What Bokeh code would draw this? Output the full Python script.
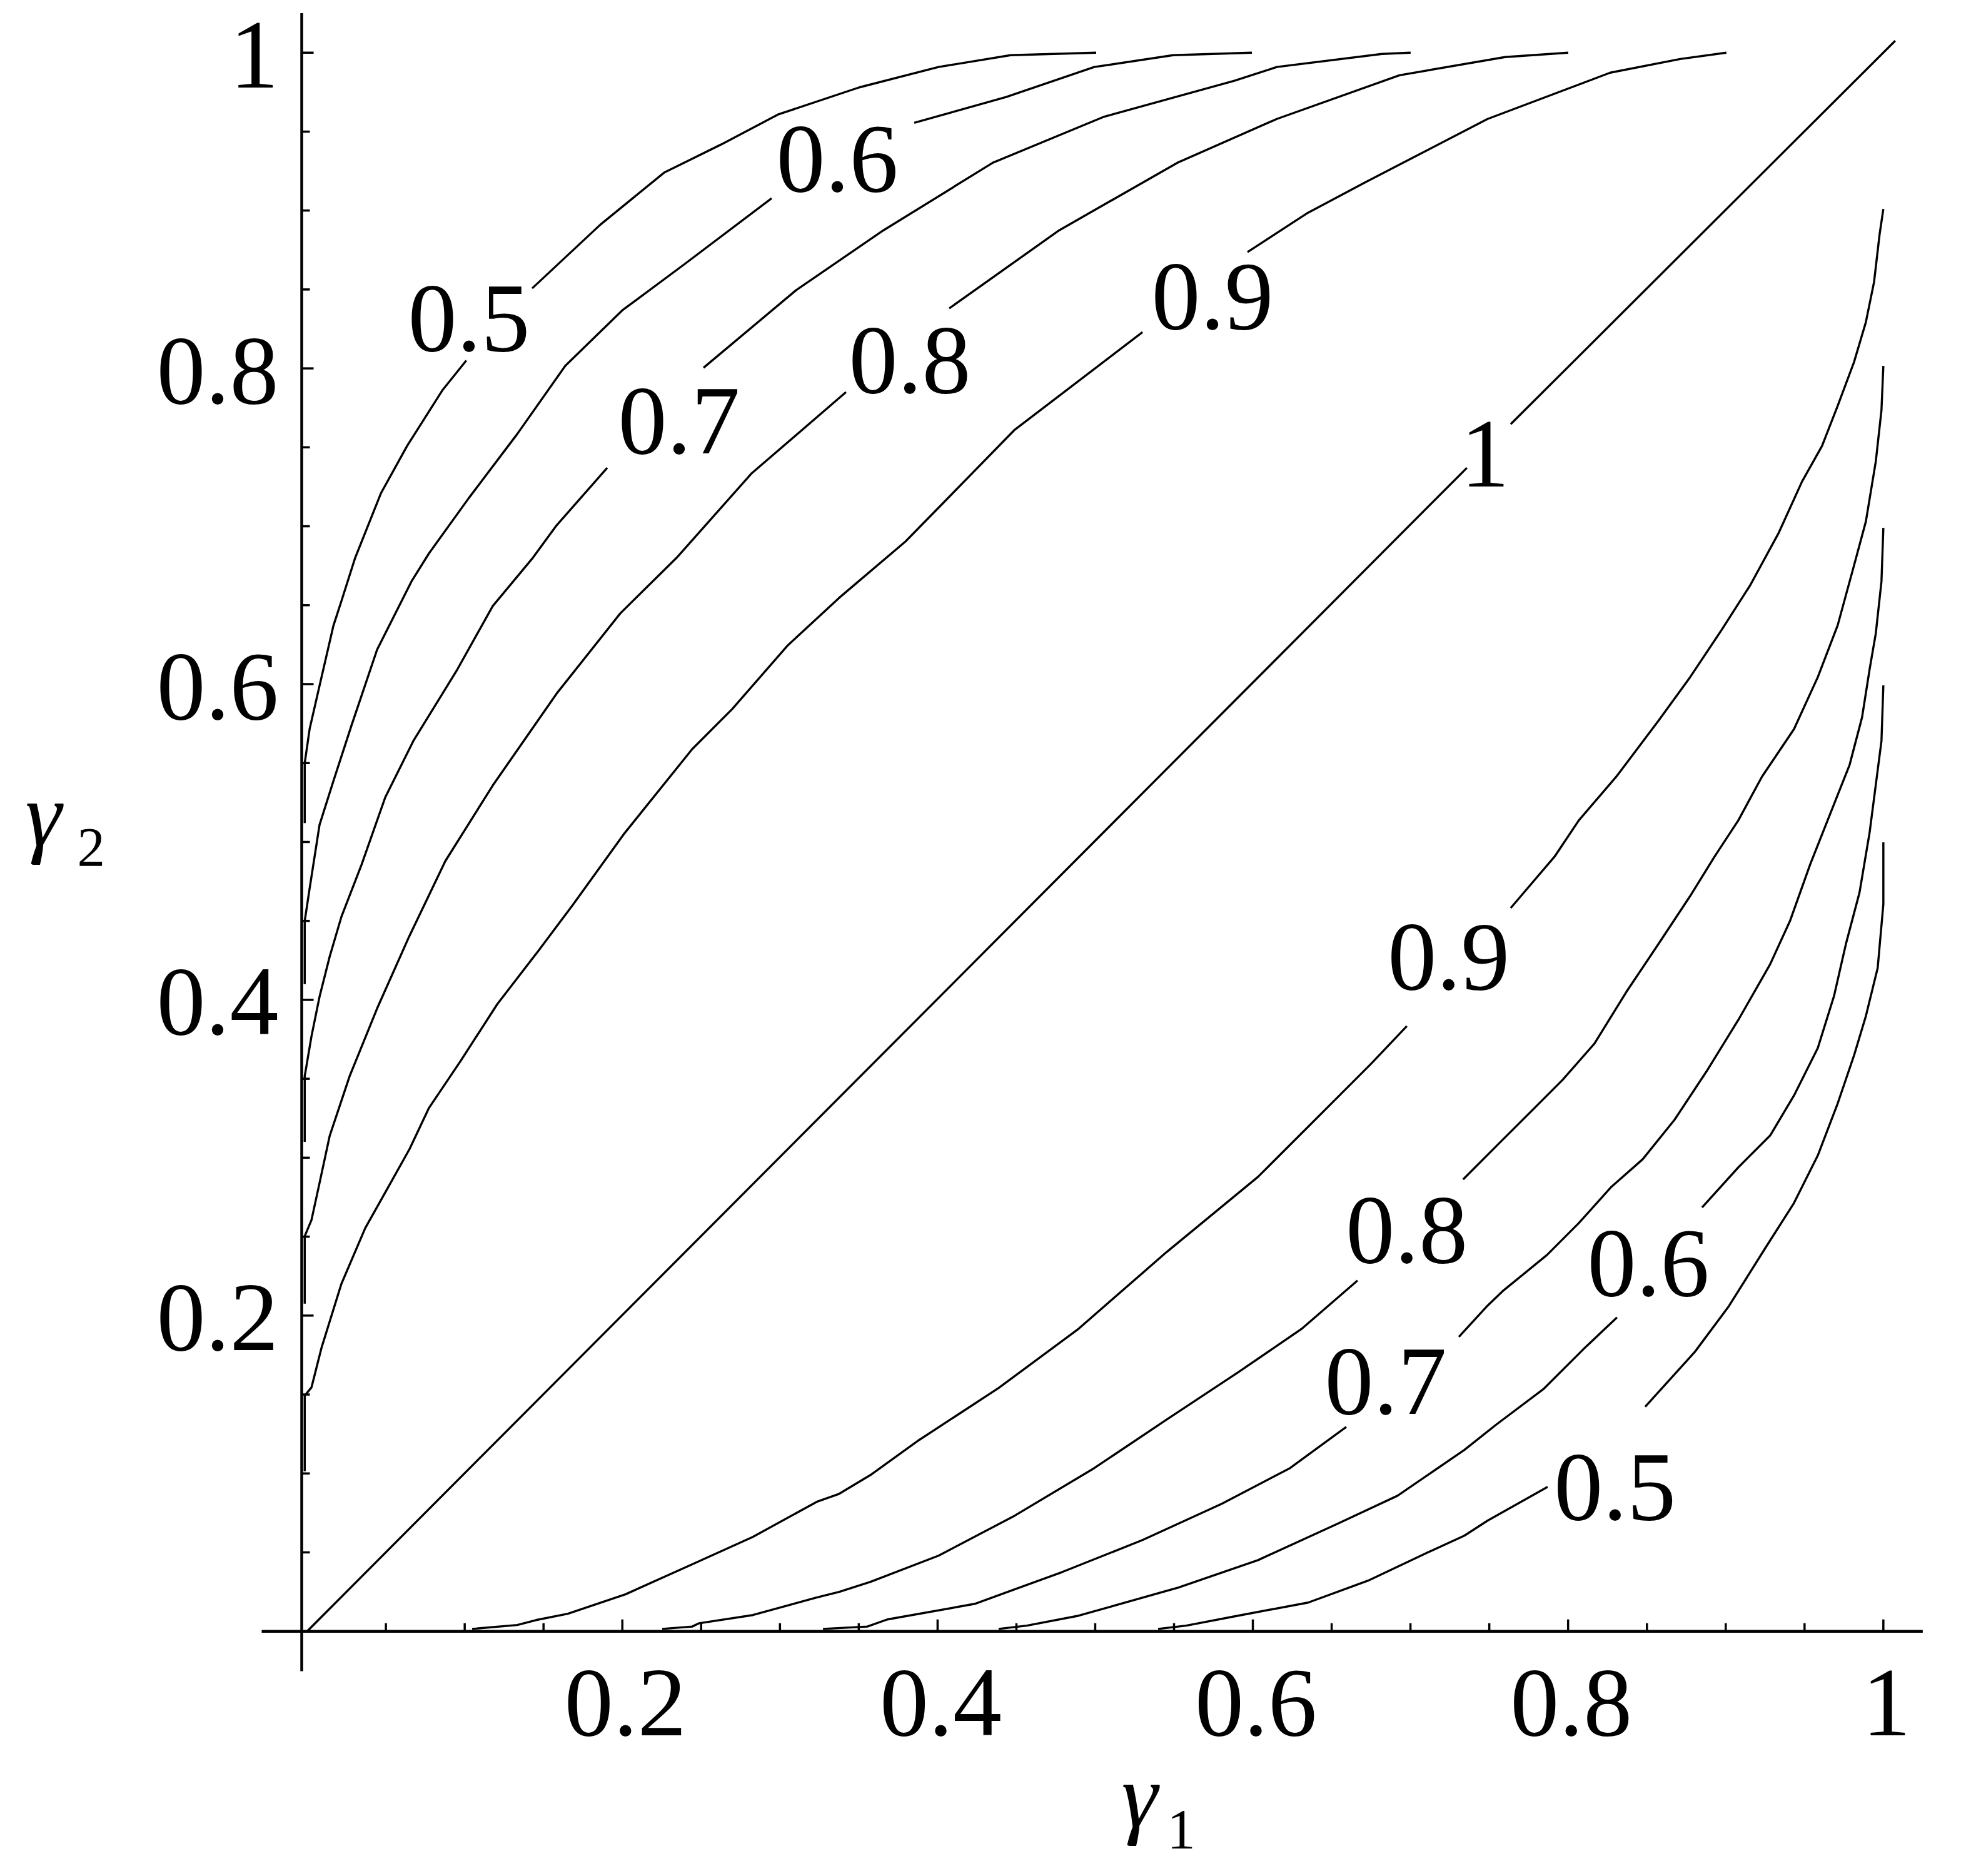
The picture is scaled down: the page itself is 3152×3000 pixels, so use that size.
import math
from bokeh.plotting import figure
from bokeh.models import Label, ColumnDataSource, Range1d, Grid
from bokeh.core.properties import value
from bokeh.embed import file_html
from bokeh.resources import INLINE

NaN = float("nan")

# ---- contour lines (gamma1, gamma2); NaN = gap for the label ----
# upper-left family
u5_x = [-0.0015, -0.0015, 0.0016, 0.0079, 0.0167, 0.0218, 0.0305, 0.0468, 0.0635, 0.0861, 0.101, NaN,
        0.1428, 0.186, 0.2265, 0.2626, 0.2987, 0.3503, 0.4006, 0.4463, 0.5006]
u5_y = [0.512, 0.550, 0.5715, 0.599, 0.637, 0.6527, 0.680, 0.7208, 0.751, 0.7865, 0.805, NaN,
        0.8507, 0.891, 0.924, 0.9418, 0.9608, 0.978, 0.9909, 0.9984, 1.0]

u6_x = [-0.0015, -0.0015, 0.0016, 0.0079, 0.0167, 0.0282, 0.0444, 0.0662, 0.0773, 0.1027, 0.1333, 0.1638,
        0.2, 0.2394, 0.2947, NaN, 0.3852, 0.4435, 0.4994, 0.5494, 0.5994]
u6_y = [0.410, 0.450, 0.4705, 0.5109, 0.5386, 0.5739, 0.6218, 0.665, 0.6828, 0.718, 0.7584, 0.8016,
        0.8368, 0.866, 0.9077, NaN, 0.9556, 0.9719, 0.9909, 0.9984, 1.0]

u7_x = [-0.0015, -0.0015, 0.0028, 0.0079, 0.0143, 0.0218, 0.0345, 0.0496, 0.0674, 0.0952, 0.1178, 0.1432,
        0.1583, 0.1904, NaN, 0.2515, 0.3102, 0.3657, 0.4351, 0.505, 0.5883, 0.6152, 0.6819, 0.7001]
u7_y = [0.310, 0.3517, 0.377, 0.402, 0.4273, 0.4527, 0.4855, 0.5283, 0.564, 0.6091, 0.6495, 0.680,
        0.7006, 0.737, NaN, 0.8004, 0.8495, 0.8875, 0.9303, 0.9592, 0.9822, 0.9909, 0.9992, 1.0]

u8_x = [-0.0015, -0.0015, 0.0028, 0.0079, 0.0143, 0.027, 0.0444, 0.0647, 0.0877, 0.1178, 0.1583, 0.1987,
        0.2344, 0.282, 0.3419, NaN, 0.4074, 0.4772, 0.5522, 0.6152, 0.693, 0.76, 0.8001]
u8_y = [0.2075, 0.2503, 0.2606, 0.284, 0.3137, 0.3517, 0.3945, 0.44, 0.4879, 0.5358, 0.594, 0.6448,
        0.680, 0.7335, 0.785, NaN, 0.838, 0.8875, 0.9303, 0.958, 0.9857, 0.9972, 1.0]

u9_x = [-0.0015, -0.0015, 0.0028, 0.0091, 0.0218, 0.0369, 0.0496, 0.0651, 0.0773, 0.0976, 0.1206, 0.146,
        0.1686, 0.2015, 0.2443, 0.2697, 0.305, 0.3376, 0.3796, 0.449, 0.53, NaN,
        0.5966, 0.635, 0.6708, 0.7489, 0.8267, 0.8711, 0.9004]
u9_y = [0.1014, 0.1493, 0.1545, 0.1794, 0.2202, 0.2554, 0.278, 0.3057, 0.3315, 0.3616, 0.3972, 0.4301,
        0.4602, 0.5057, 0.5588, 0.5842, 0.6246, 0.6547, 0.6903, 0.7612, 0.823, NaN,
        0.8737, 0.8986, 0.9176, 0.958, 0.9873, 0.996, 1.0]

# level 1 (diagonal)
d1_x = [0.0, 0.7358, NaN, 0.7636, 1.0075]
d1_y = [0.0, 0.737, NaN, 0.7647, 1.0075]

# lower-right family
l9_x = [0.1047, 0.1333, 0.1452, 0.1654, 0.2019, 0.2424, 0.2828, 0.3233, 0.3376, 0.3574, 0.3883, 0.4387,
        0.4895, 0.545, 0.6033, 0.6549, 0.6751, 0.6977, NaN, 0.7636, 0.7914, 0.8068, 0.8306, 0.8572,
        0.8774, 0.8977, 0.9155, 0.9334, 0.9484, 0.9611, 0.971, 0.9814, 0.9889, 0.9941, 0.9976, 1.0]
l9_y = [0.0015, 0.004, 0.0071, 0.0111, 0.0234, 0.0416, 0.0598, 0.082, 0.0871, 0.099, 0.1212, 0.1541,
        0.1917, 0.24, 0.2879, 0.3394, 0.3596, 0.3834, NaN, 0.4582, 0.4907, 0.5137, 0.5414, 0.5766,
        0.6044, 0.6348, 0.6626, 0.6954, 0.7283, 0.7509, 0.7762, 0.804, 0.8293, 0.8547, 0.8848, 0.901]

l8_x = [0.2253, 0.2443, 0.2487, 0.2828, 0.3233, 0.3376, 0.3574, 0.4006, 0.449, 0.4994, 0.545, 0.5906,
        0.6311, 0.6664, NaN, 0.7334, 0.756, 0.7763, 0.7965, 0.8167, 0.837, 0.8572, 0.8774, 0.8929,
        0.908, 0.923, 0.9433, 0.9584, 0.971, 0.9814, 0.9889, 0.9952, 0.9988, 1.0]
l8_y = [0.0015, 0.003, 0.0051, 0.0103, 0.0214, 0.025, 0.0313, 0.0479, 0.0733, 0.1034, 0.1339, 0.164,
        0.1917, 0.2222, NaN, 0.2863, 0.3089, 0.3291, 0.3493, 0.3723, 0.4051, 0.4352, 0.4657, 0.4907,
        0.5137, 0.5414, 0.5715, 0.6044, 0.6372, 0.6752, 0.703, 0.741, 0.7735, 0.8016]

l7_x = [0.3273, 0.3554, 0.3681, 0.4236, 0.4792, 0.53, 0.5803, 0.6236, 0.6593, NaN, 0.7307, 0.7489,
        0.7584, 0.7866, 0.8068, 0.8271, 0.8473, 0.8675, 0.8877, 0.908, 0.9282, 0.9409, 0.9536, 0.9786,
        0.9865, 0.9913, 0.9952, 0.9988, 1.0]
l7_y = [0.0015, 0.003, 0.0075, 0.0174, 0.0376, 0.0578, 0.0808, 0.1034, 0.1295, NaN, 0.1865, 0.2063,
        0.2154, 0.2384, 0.2586, 0.2812, 0.299, 0.324, 0.3545, 0.3873, 0.4226, 0.4503, 0.4859, 0.5489,
        0.579, 0.6095, 0.6321, 0.665, 0.699]

l6_x = [0.4387, 0.4566, 0.4895, 0.5526, 0.6033, 0.6537, 0.6918, 0.7342, 0.7541, 0.7842, 0.8096, 0.831, NaN,
        0.885, 0.908, 0.9282, 0.9433, 0.9584, 0.9687, 0.9762, 0.9849, 0.9913, 0.9988, 1.0]
l6_y = [0.0015, 0.0036, 0.0099, 0.0277, 0.0451, 0.0681, 0.0859, 0.1149, 0.1307, 0.1533, 0.1786, 0.1988, NaN,
        0.2685, 0.2939, 0.3141, 0.3394, 0.3695, 0.4024, 0.4352, 0.4681, 0.5061, 0.564, 0.5992]

l5_x = [0.5399, 0.5577, 0.5906, 0.6351, 0.6731, 0.7108, 0.7342, 0.7489, 0.787, NaN,
        0.8489, 0.8804, 0.902, 0.925, 0.9433, 0.9584, 0.971, 0.9814, 0.9889, 0.9964, 1.0, 1.0]
l5_y = [0.0015, 0.0036, 0.0099, 0.0182, 0.0321, 0.0499, 0.0606, 0.0701, 0.0915, NaN,
        0.1422, 0.177, 0.206, 0.2426, 0.2713, 0.3014, 0.3343, 0.3648, 0.3897, 0.4202, 0.4606, 0.4998]

# contour labels
label_x = [0.1027, 0.3364, 0.236, 0.3824, 0.5744, 0.7473, 0.7243, 0.6977, 0.6843, 0.8509, 0.8298]
label_y = [0.8333, 0.9343, 0.768, 0.8067, 0.8471, 0.7473, 0.4285, 0.2554, 0.1596, 0.2345, 0.0927]
label_text = ["0.5", "0.6", "0.7", "0.8", "0.9", "1", "0.9", "0.8", "0.7", "0.6", "0.5"]

# axes (crossing near the origin) and ticks
x_axis_at = 0.0            # y position of the horizontal axis
y_axis_at = -0.0034        # x position of the vertical axis
x_axis_extent = [-0.0288, 1.025]
y_axis_extent = [-0.0253, 1.025]
major_ticks = [0.2, 0.4, 0.6, 0.8, 1.0]
major_tick_text = ["0.2", "0.4", "0.6", "0.8", "1"]
minor_ticks = [0.05, 0.1, 0.15, 0.25, 0.3, 0.35, 0.45, 0.5, 0.55, 0.65, 0.7, 0.75, 0.85, 0.9, 0.95]

SERIF = "Liberation Serif"

p = figure(frame_width=3128, frame_height=2976,
           x_range=Range1d(-0.19462, 1.04628), y_range=Range1d(-0.14569, 1.03316),
           x_axis_location=None, y_axis_location=None,
           toolbar_location=None, output_backend="svg",
           min_border_left=0, min_border_right=0, min_border_top=0, min_border_bottom=0)
p.outline_line_color = None
p.background_fill_color = "white"
p.border_fill_color = "white"
for r in list(p.center):
    if isinstance(r, Grid):
        r.visible = False

# axis lines
p.line(x_axis_extent, [x_axis_at] * 2, line_color="black", line_width=4.5)
p.line([y_axis_at] * 2, y_axis_extent, line_color="black", line_width=4.5)

# ticks (pointing inward, fixed screen length)
p.ray(x=major_ticks, y=[x_axis_at] * len(major_ticks), length=19, length_units="screen",
      angle=math.pi / 2, line_color="black", line_width=3.5)
p.ray(x=minor_ticks, y=[x_axis_at] * len(minor_ticks), length=13, length_units="screen",
      angle=math.pi / 2, line_color="black", line_width=3.5)
p.ray(x=[y_axis_at] * len(major_ticks), y=major_ticks, length=19, length_units="screen",
      angle=0, line_color="black", line_width=3.5)
p.ray(x=[y_axis_at] * len(minor_ticks), y=minor_ticks, length=13, length_units="screen",
      angle=0, line_color="black", line_width=3.5)

# tick labels
p.text(x=major_ticks, y=[x_axis_at] * len(major_ticks), text=major_tick_text,
       text_font=value(SERIF), text_font_size="156px", text_align="center",
       text_baseline="middle", x_offset=5, y_offset=115, text_color="black")
p.text(x=[y_axis_at] * len(major_ticks), y=major_ticks, text=major_tick_text,
       text_font=value(SERIF), text_font_size="156px", text_align="right",
       text_baseline="middle", x_offset=-37, y_offset=4, text_color="black")

# contour lines
curves = [(u5_x, u5_y), (u6_x, u6_y), (u7_x, u7_y), (u8_x, u8_y), (u9_x, u9_y), (d1_x, d1_y),
          (l9_x, l9_y), (l8_x, l8_y), (l7_x, l7_y), (l6_x, l6_y), (l5_x, l5_y)]
for cx, cy in curves:
    p.line(cx, cy, line_color="black", line_width=3.4)

# contour labels
src = ColumnDataSource(dict(x=label_x, y=label_y, t=label_text))
p.text(x="x", y="y", text="t", source=src, text_font=value(SERIF), text_font_size="156px",
       text_align="center", text_baseline="middle", y_offset=4, text_color="black")

# axis titles gamma_1, gamma_2
p.add_layout(Label(x=0.5143, y=-0.1041, x_offset=6, text="γ", text_font=SERIF,
                   text_font_style="italic", text_color="black",
                   text_font_size="147px", text_baseline="middle", text_align="left"))
p.add_layout(Label(x=0.5432, y=-0.1255, x_offset=6, text="1", text_font=SERIF, text_color="black",
                   text_font_size="91px", text_baseline="middle", text_align="left"))
p.add_layout(Label(x=-0.1811, y=0.5206, x_offset=6, y_offset=-8, text="γ", text_font=SERIF,
                   text_font_style="italic", text_color="black",
                   text_font_size="147px", text_baseline="middle", text_align="left"))
p.add_layout(Label(x=-0.1482, y=0.4996, x_offset=6, y_offset=-8, text="2", text_font=SERIF,
                   text_color="black",
                   text_font_size="89px", text_baseline="middle", text_align="left"))

open("out.html", "w").write(file_html(p, INLINE))
